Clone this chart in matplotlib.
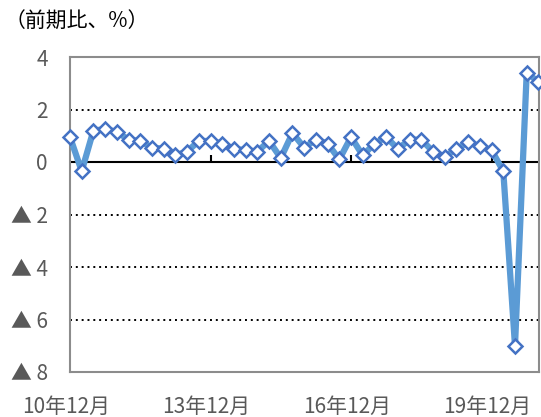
import matplotlib.pyplot as plt
import matplotlib.transforms as mtransforms

plt.rcParams['font.family'] = ['Noto Sans CJK JP', 'DejaVu Sans']

# 四半期データ（10年12月〜20年12月、前期比 %）
values = [0.95, -0.35, 1.2, 1.25, 1.15, 0.85, 0.8, 0.55, 0.5, 0.25,
          0.4, 0.8, 0.8, 0.7, 0.5, 0.45, 0.4, 0.8, 0.15, 1.1,
          0.55, 0.85, 0.7, 0.1, 0.95, 0.25, 0.7, 0.95, 0.5, 0.85,
          0.85, 0.4, 0.2, 0.5, 0.75, 0.6, 0.45, -0.35, -7.0, 3.4, 3.05]
x_ticks = [0, 12, 24, 36]
x_labels = ['10年12月', '13年12月', '16年12月', '19年12月']
y_ticks = [4, 2, 0, -2, -4, -6, -8]
y_labels = ['4', '2', '0', '▲ 2', '▲ 4', '▲ 6', '▲ 8']

fig = plt.figure(figsize=(5.41, 4.17), dpi=100)
ax = fig.add_axes([70/541, 1 - 372/417, 469/541, 315/417])

x = list(range(len(values)))
ax.plot(x, values, color='#5B9BD5', lw=4.5, zorder=3,
        marker='D', markersize=7.5, markerfacecolor='white',
        markeredgecolor='#4472C4', markeredgewidth=1.8, clip_on=False)

ax.set_xlim(0, 40.05)
ax.set_ylim(-8, 4)

# 補助線
for g in [2, -2, -4, -6]:
    ax.axhline(g, color='black', lw=1.4, ls=(0, (1, 2)), zorder=1)
ax.axhline(0, color='black', lw=1.5, zorder=2)
ax.vlines(x_ticks[1:], 0, 0.27, color='black', lw=1.5, zorder=2)

ax.set_yticks(y_ticks)
ax.set_yticklabels(y_labels, fontsize=15, color='#595959')
ax.tick_params(axis='y', length=0, pad=16)

ax.set_xticks(x_ticks)
ax.set_xticklabels(x_labels, fontsize=15, color='#595959')
ax.tick_params(axis='x', length=0, pad=17)
offset = mtransforms.ScaledTranslation(-0.04, 0, fig.dpi_scale_trans)
for lbl in ax.get_xticklabels():
    lbl.set_transform(lbl.get_transform() + offset)

for sp in ax.spines.values():
    sp.set_color('#8C8C8C')
    sp.set_linewidth(1.5)

fig.text(5/541, 1 - 22/417, '（前期比、%）', fontsize=15, color='black', va='center')

plt.savefig('out.png', dpi=100)
plt.close()
